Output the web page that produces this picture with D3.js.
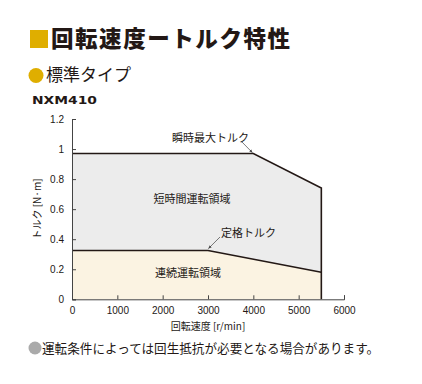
<!DOCTYPE html>
<html>
<head>
<meta charset="utf-8">
<script src="https://cdn.jsdelivr.net/npm/d3@7"></script>
<style>
  body { margin: 0; background: #fff; }
  text { font-family: "Noto Sans CJK JP", "Noto Sans", sans-serif; fill: #231815; }
</style>
</head>
<body>
<svg id="chart" width="422" height="384"></svg>
<script>
// data
var maxTorqueSpeed = [0, 4000, 5500];
var maxTorqueValue = [0.97, 0.97, 0.74];
var ratedTorqueSpeed = [0, 3000, 5500];
var ratedTorqueValue = [0.325, 0.325, 0.18];
var xTicks = [0, 1000, 2000, 3000, 4000, 5000, 6000];
var yTicks = [0, 0.2, 0.4, 0.6, 0.8, 1, 1.2];

var svg = d3.select("#chart");
var gold = "#dfae00", ink = "#231815";

// header
svg.append("rect").attr("x", 30).attr("y", 30).attr("width", 18).attr("height", 18).attr("fill", gold);
svg.append("text").attr("x", 51).attr("y", 46.5).style("font-size", "22.5px").style("font-weight", "900")
    .attr("textLength", 239).attr("lengthAdjust", "spacing")
    .text("回転速度ートルク特性");
svg.append("circle").attr("cx", 36).attr("cy", 75.5).attr("r", 7.5).attr("fill", gold);
svg.append("text").attr("x", 46).attr("y", 81).style("font-size", "17px").text("標準タイプ");
svg.append("text").attr("x", 32).attr("y", 103.5).style("font-size", "10.5px").style("font-weight", "bold")
    .style("font-family", "DejaVu Sans, sans-serif")
    .attr("textLength", 65).attr("lengthAdjust", "spacingAndGlyphs").text("NXM410");

// scales
var x = d3.scaleLinear().domain([0, 6000]).range([72, 344]);
var y = d3.scaleLinear().domain([0, 1.2]).range([299.3, 119]);

var maxPts = maxTorqueSpeed.map(function(d, i) { return [d, maxTorqueValue[i]]; });
var ratedPts = ratedTorqueSpeed.map(function(d, i) { return [d, ratedTorqueValue[i]]; });

var area = d3.area().x(function(d) { return x(d[0]); }).y1(function(d) { return y(d[1]); }).y0(y(0));
var line = d3.line().x(function(d) { return x(d[0]); }).y(function(d) { return y(d[1]); });

svg.append("path").datum(maxPts).attr("d", area).attr("fill", "#ececec");
svg.append("path").datum(ratedPts).attr("d", area).attr("fill", "#fbf3e2");
svg.append("path").datum(ratedPts).attr("d", line).attr("fill", "none").attr("stroke", ink).attr("stroke-width", 1.6);
svg.append("path").datum(maxPts.concat([[5500, 0]])).attr("d", line).attr("fill", "none").attr("stroke", ink).attr("stroke-width", 1.6);

// axes (ticks point inward)
var xAxis = svg.append("g").attr("transform", "translate(0," + y(0) + ")")
    .call(d3.axisBottom(x).tickValues(xTicks).tickSize(-4).tickPadding(8).tickFormat(d3.format("d")));
var yAxis = svg.append("g").attr("transform", "translate(" + x(0) + ",0)")
    .call(d3.axisLeft(y).tickValues(yTicks).tickSize(-4).tickPadding(8).tickFormat(function(d) { return d3.format("")(+d.toFixed(1)); }));
[xAxis, yAxis].forEach(function(g) {
  g.select(".domain").attr("stroke", "#444");
  g.selectAll(".tick line").attr("stroke", "#444");
  g.selectAll(".tick text").style("font-size", "10px").style("font-family", "Liberation Sans, Arial, sans-serif").attr("fill", "#333");
});

svg.append("text").attr("x", 208).attr("y", 330).attr("text-anchor", "middle").style("font-size", "10px")
    .text("回転速度 [r/min]");
svg.append("text").attr("transform", "translate(41,209) rotate(-90)").attr("text-anchor", "middle").style("font-size", "10px")
    .text("トルク [N·m]");

// region labels
svg.append("text").attr("x", 192).attr("y", 203).attr("text-anchor", "middle").style("font-size", "11px").text("短時間運転領域");
svg.append("text").attr("x", 188).attr("y", 277).attr("text-anchor", "middle").style("font-size", "11px").text("連続運転領域");

// annotations with leaders
svg.append("defs").append("marker").attr("id", "ah").attr("viewBox", "0 0 10 10").attr("refX", 9).attr("refY", 5)
    .attr("markerWidth", 5).attr("markerHeight", 5).attr("orient", "auto")
  .append("path").attr("d", "M0,1L10,5L0,9Z").attr("fill", "#444");

svg.append("text").attr("x", 172).attr("y", 142).style("font-size", "11px").text("瞬時最大トルク");
svg.append("line").attr("x1", 241).attr("y1", 141).attr("x2", x(4000) - 1).attr("y2", y(0.97) - 1)
    .attr("stroke", "#444").attr("stroke-width", 0.7).attr("marker-end", "url(#ah)");
svg.append("text").attr("x", 221).attr("y", 237).style("font-size", "11px").text("定格トルク");
svg.append("line").attr("x1", 220).attr("y1", 237).attr("x2", x(3000) + 0.5).attr("y2", y(0.325) - 2)
    .attr("stroke", "#444").attr("stroke-width", 0.7).attr("marker-end", "url(#ah)");

// footnote
svg.append("circle").attr("cx", 35).attr("cy", 348).attr("r", 6.5).attr("fill", "#aaa");
svg.append("text").attr("x", 42).attr("y", 353).style("font-size", "12.6px").attr("fill", "#333")
    .text("運転条件によっては回生抵抗が必要となる場合があります。");
</script>
</body>
</html>
